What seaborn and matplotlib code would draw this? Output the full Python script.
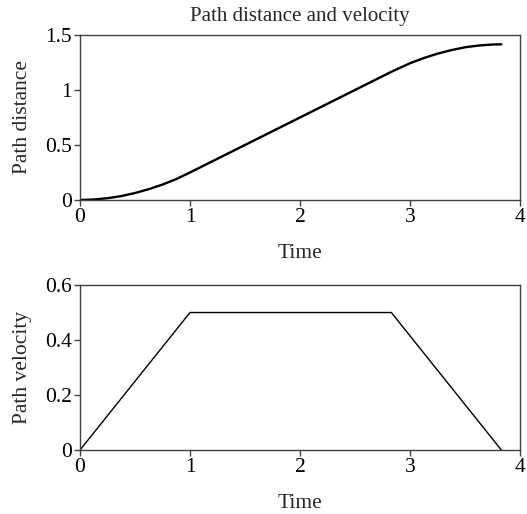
import matplotlib
matplotlib.use("Agg")
import matplotlib.pyplot as plt
import seaborn as sns
import pandas as pd

# values
dist_time = [0, 0.125, 0.25, 0.375, 0.5, 0.625, 0.75, 0.875, 1.0, 1.25, 1.5, 1.75,
             2.0, 2.25, 2.5, 2.75, 2.83, 3.0, 3.125, 3.25, 3.375, 3.5, 3.625, 3.75, 3.83]
dist_vals = [0, 0.004, 0.016, 0.035, 0.063, 0.098, 0.14, 0.19, 0.25, 0.375, 0.5, 0.625,
             0.75, 0.875, 1.0, 1.125, 1.165, 1.243, 1.29, 1.33, 1.362, 1.388, 1.404, 1.413, 1.415]

vel_time = [0, 1.0, 2.83, 3.83]
vel_vals = [0, 0.5, 0.5, 0]

dist_df = pd.DataFrame({"Time": dist_time, "Path distance": dist_vals})
vel_df = pd.DataFrame({"Time": vel_time, "Path velocity": vel_vals})

sns.set_style("ticks")
plt.rcParams['font.family'] = ['Liberation Serif', 'DejaVu Serif']
plt.rcParams['font.size'] = 15.5
plt.rcParams['axes.edgecolor'] = '#404040'
plt.rcParams['xtick.color'] = '#404040'
plt.rcParams['ytick.color'] = '#404040'
plt.rcParams['xtick.labelcolor'] = 'black'
plt.rcParams['ytick.labelcolor'] = 'black'

fig = plt.figure(figsize=(5.27, 5.14), dpi=100)
ax1 = fig.add_axes([0.1518, 0.611, 0.835, 0.321])
ax2 = fig.add_axes([0.1518, 0.1245, 0.835, 0.321])

sns.lineplot(data=dist_df, x="Time", y="Path distance", ax=ax1, color='black', linewidth=1.7)
ax1.set_xlim(0, 4)
ax1.set_ylim(0, 1.5)
ax1.set_xticks([0, 1, 2, 3, 4])
ax1.set_yticks([0, 0.5, 1, 1.5])
ax1.set_yticklabels(['0', '0.5', '1', '1.5'])
ax1.set_title('Path distance and velocity', fontsize=15, pad=10)

sns.lineplot(data=vel_df, x="Time", y="Path velocity", ax=ax2, color='black', linewidth=1.0)
ax2.set_xlim(0, 4)
ax2.set_ylim(0, 0.6)
ax2.set_xticks([0, 1, 2, 3, 4])
ax2.set_yticks([0, 0.2, 0.4, 0.6])
ax2.set_yticklabels(['0', '0.2', '0.4', '0.6'])

for ax in (ax1, ax2):
    ax.tick_params(direction='out', length=4, width=1, pad=2, labelsize=15.5)
    for s in ax.spines.values():
        s.set_linewidth(1)
    ax.xaxis.label.set_size(15.5)
    ax.yaxis.label.set_size(15.5)
    ax.xaxis.labelpad = 12
    ax.yaxis.labelpad = 9

fig.savefig('out.png', dpi=100)
plt.close(fig)
